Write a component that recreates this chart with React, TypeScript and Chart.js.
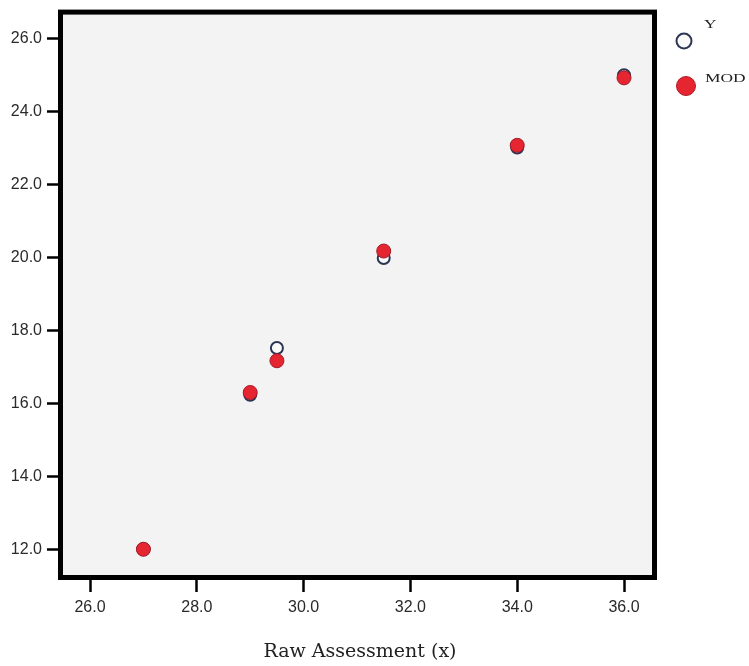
import React, { useEffect, useRef } from "react";
import { Chart, registerables } from "chart.js";

Chart.register(...registerables);

const xValues = [27, 29, 29.5, 31.5, 34, 36];
const yObserved = [12.0, 16.24, 17.52, 19.99, 23.02, 25.0];
const yModel = [12.0, 16.3, 17.17, 20.18, 23.08, 24.93];
const xTickValues = [26, 28, 30, 32, 34, 36];
const yTickValues = [12, 14, 16, 18, 20, 22, 24, 26];
const seriesNames = ["Y", "MOD"];
const xAxisTitle = "Raw Assessment (x)";

const framePlugin = {
  id: "framePlugin",
  beforeDraw(chart: any) {
    const { ctx, chartArea } = chart;
    ctx.save();
    ctx.fillStyle = "#f3f3f3";
    ctx.fillRect(chartArea.left, chartArea.top, chartArea.right - chartArea.left, chartArea.bottom - chartArea.top);
    ctx.restore();
  },
  afterDraw(chart: any) {
    const { ctx, chartArea } = chart;
    ctx.save();
    ctx.strokeStyle = "#000";
    ctx.lineWidth = 5;
    ctx.strokeRect(chartArea.left - 2.5, chartArea.top - 2.5, chartArea.right - chartArea.left + 5, chartArea.bottom - chartArea.top + 5);

    // axis title
    ctx.fillStyle = "#222";
    ctx.font = "19px 'DejaVu Serif'";
    ctx.textAlign = "center";
    ctx.textBaseline = "alphabetic";
    ctx.fillText(xAxisTitle, 360, 657);

    // legend
    ctx.lineWidth = 2;
    ctx.strokeStyle = "#2c3554";
    ctx.fillStyle = "#fafafa";
    ctx.beginPath();
    ctx.arc(684, 41, 7.5, 0, Math.PI * 2);
    ctx.fill();
    ctx.stroke();

    ctx.fillStyle = "#e52530";
    ctx.strokeStyle = "#b01c28";
    ctx.lineWidth = 1;
    ctx.beginPath();
    ctx.arc(686, 86, 9.5, 0, Math.PI * 2);
    ctx.fill();
    ctx.stroke();

    ctx.fillStyle = "#222";
    ctx.textAlign = "left";
    ctx.font = "12px 'Liberation Serif'";
    const labels = [
      { t: seriesNames[0], x: 704, y: 28 },
      { t: seriesNames[1], x: 705, y: 82 },
    ];
    for (const l of labels) {
      ctx.save();
      ctx.translate(l.x, l.y);
      ctx.scale(1.45, 1);
      ctx.fillText(l.t, 0, 0);
      ctx.restore();
    }
    ctx.restore();
  },
};

export default function App() {
  const ref = useRef<HTMLCanvasElement | null>(null);

  useEffect(() => {
    if (!ref.current) return;
    const chart = new Chart(ref.current, {
      type: "scatter",
      data: {
        datasets: [
          {
            label: seriesNames[1],
            data: xValues.map((x, i) => ({ x, y: yModel[i] })),
            pointRadius: 7,
            pointBackgroundColor: "#e52530",
            pointBorderColor: "#a01c2a",
            pointBorderWidth: 1,
            order: 0,
          },
          {
            label: seriesNames[0],
            data: xValues.map((x, i) => ({ x, y: yObserved[i] })),
            pointRadius: 6,
            pointBackgroundColor: "#fafafa",
            pointBorderColor: "#2c3554",
            pointBorderWidth: 2,
            order: 1,
          },
        ],
      },
      options: {
        animation: false,
        responsive: false,
        devicePixelRatio: 1,
        layout: { padding: { left: 0, right: 97, top: 9, bottom: 0 } },
        plugins: { legend: { display: false }, tooltip: { enabled: false } },
        scales: {
          x: {
            type: "linear",
            min: 25.494,
            max: 36.524,
            afterBuildTicks: (scale: any) => {
              scale.ticks = xTickValues.map((v) => ({ value: v }));
            },
            afterFit: (scale: any) => {
              scale.height = 91;
            },
            border: { display: false },
            grid: {
              drawOnChartArea: false,
              drawTicks: true,
              tickLength: 17,
              tickColor: "#000",
              tickWidth: 2.5,
            },
            ticks: {
              padding: 6,
              color: "#2a2a2a",
              font: { family: "'Liberation Sans'", size: 16 },
              maxRotation: 0,
              autoSkip: false,
              callback: (v: any) => Number(v).toFixed(1),
            },
          },
          y: {
            type: "linear",
            min: 11.294,
            max: 26.665,
            afterBuildTicks: (scale: any) => {
              scale.ticks = yTickValues.map((v) => ({ value: v }));
            },
            afterFit: (scale: any) => {
              scale.width = 63;
            },
            border: { display: false },
            grid: {
              drawOnChartArea: false,
              drawTicks: true,
              tickLength: 16,
              tickColor: "#000",
              tickWidth: 2.5,
            },
            ticks: {
              padding: 5,
              color: "#2a2a2a",
              font: { family: "'Liberation Sans'", size: 16 },
              autoSkip: false,
              callback: (v: any) => Number(v).toFixed(1),
            },
          },
        },
      },
      plugins: [framePlugin],
    });
    return () => chart.destroy();
  }, []);

  return (
    <div style={{ position: "absolute", left: 0, top: 0, width: 749, height: 666, background: "#fff" }}>
      <canvas ref={ref} width={749} height={666} />
    </div>
  );
}
